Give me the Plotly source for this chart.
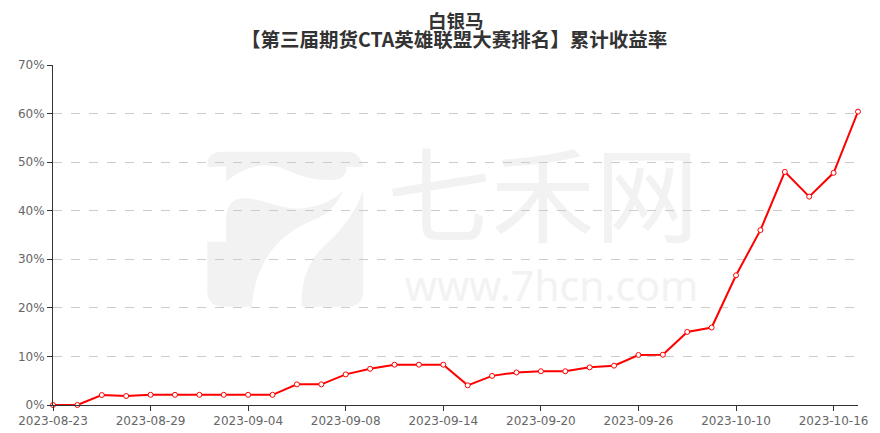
import plotly.graph_objects as go

dates = ["2023-08-23", "2023-08-24", "2023-08-25", "2023-08-28", "2023-08-29", "2023-08-30",
         "2023-08-31", "2023-09-01", "2023-09-04", "2023-09-05", "2023-09-06", "2023-09-07",
         "2023-09-08", "2023-09-11", "2023-09-12", "2023-09-13", "2023-09-14", "2023-09-15",
         "2023-09-18", "2023-09-19", "2023-09-20", "2023-09-21", "2023-09-22", "2023-09-25",
         "2023-09-26", "2023-09-27", "2023-09-28", "2023-10-09", "2023-10-10", "2023-10-11",
         "2023-10-12", "2023-10-13", "2023-10-16", "2023-10-17"]
returns = [0.0, 0.0, 2.05, 1.85, 2.1, 2.1, 2.1, 2.1, 2.1, 2.1, 4.25, 4.25,
           6.3, 7.45, 8.3, 8.3, 8.3, 4.05, 6.0, 6.7, 6.95, 6.95, 7.75, 8.1,
           10.3, 10.35, 15.05, 15.95, 26.7, 36.0, 48.0, 42.9, 47.8, 60.4]
tick_dates = dates[::4]
y_ticks = [0, 10, 20, 30, 40, 50, 60, 70]
title_line1 = "白银马"
title_line2 = "【第三届期货CTA英雄联盟大赛排名】累计收益率"

# page is 880x433, the html body adds an 8px offset
OFF = 8
W, H = 880 - OFF, 433 - OFF
PL, PR, PT, PB = 53, 858, 65, 405          # plot area in page pixels
L, T = PL - OFF, PT - OFF
R, B = W - (PR - OFF), H - (PB - OFF)
pw, ph = PR - PL, PB - PT


def px(x, y):
    return (x - PL) / pw, (PB - y) / ph


def zpath(pts_cmds):
    # logo drawn in zoom coordinates: page x = 190 + zx/3, page y = 130 + zy/3
    out = []
    for tok in pts_cmds.split():
        if "," in tok:
            zx, zy = map(float, tok.split(","))
            a, b = px(190 + zx / 3, 130 + zy / 3)
            out.append(f"{a:.5f},{b:.5f}")
        else:
            out.append(tok)
    return " ".join(out)


wm = "#f2f2f2"
logo_paths = [
    "M 52,110 L 52,105 Q 52,65 100,65 L 470,65 Q 510,65 520,110 L 470,110 Q 470,150 420,150 "
    "Q 350,150 290,120 Q 200,80 108,155 L 108,110 Z",
    "M 52,335 L 108,335 L 108,260 Q 115,205 160,205 Q 200,205 240,220 Q 300,240 340,235 "
    "Q 420,225 460,180 Q 430,250 370,270 Q 200,340 185,530 L 100,530 Q 52,530 52,480 Z",
    "M 520,180 L 520,480 Q 520,530 470,530 L 335,530 Q 330,420 400,350 Q 490,270 520,180 Z",
]
shapes = []
for p in logo_paths:
    shapes.append(dict(type="path", xref="paper", yref="paper", path=zpath(p),
                       fillcolor=wm, line=dict(width=0), layer="below"))

x0, y0 = px(380, 150)
x1, y1 = px(706, 262)
shapes.append(dict(type="rect", xref="paper", yref="paper", x0=x0, y0=y0, x1=x1, y1=y1,
                   line=dict(width=0), fillcolor="rgba(0,0,0,0)", layer="below",
                   label=dict(text="七禾网", font=dict(size=104, color=wm,
                              family="Noto Sans CJK SC"), textposition="middle center")))
x0, y0 = px(395, 268)
x1, y1 = px(708, 308)
shapes.append(dict(type="rect", xref="paper", yref="paper", x0=x0, y0=y0, x1=x1, y1=y1,
                   line=dict(width=0), fillcolor="rgba(0,0,0,0)", layer="below",
                   label=dict(text="www.7hcn.com", font=dict(size=41, color=wm,
                              family="Noto Sans"), textposition="middle center")))

fig = go.Figure()
fig.add_trace(go.Scatter(
    x=dates, y=returns, mode="lines+markers",
    line=dict(color="#ff0000", width=2),
    marker=dict(size=5, color="#ffffff", line=dict(color="#ff0000", width=1)),
    cliponaxis=False, showlegend=False,
))

fig.update_layout(
    width=W, height=H,
    margin=dict(l=L, r=R, t=T, b=B, autoexpand=False),
    paper_bgcolor="#ffffff", plot_bgcolor="#ffffff",
    font=dict(family="DejaVu Sans", size=12, color="#666666"),
    shapes=shapes,
    annotations=[
        dict(text=f"<b>{title_line1}</b>", xref="paper", yref="paper",
             x=px(456, 0)[0], y=px(0, 19.5)[1],
             xanchor="center", yanchor="middle", showarrow=False, borderpad=0,
             font=dict(family="Noto Sans CJK SC", size=18.5, color="#333333")),
        dict(text=f"<b>{title_line2}</b>", xref="paper", yref="paper",
             x=px(453.5, 0)[0], y=px(0, 38.5)[1], xanchor="center", yanchor="middle",
             showarrow=False, borderpad=0,
             font=dict(family="Noto Sans CJK SC", size=19.5, color="#333333")),
    ],
    xaxis=dict(
        type="category", range=[0, len(dates) - 1], automargin=False,
        tickmode="array", tickvals=tick_dates, ticktext=tick_dates,
        showgrid=False, showline=True, linecolor="#333333", linewidth=1,
        ticks="outside", ticklen=5, tickcolor="#333333",
        tickfont=dict(size=12, color="#666666"), zeroline=False,
    ),
    yaxis=dict(
        range=[0, 70], tickmode="array", tickvals=y_ticks, automargin=False,
        ticktext=[f"{v}%" for v in y_ticks],
        showgrid=True, gridcolor="#cccccc", griddash="dash", gridwidth=1,
        showline=True, linecolor="#333333", linewidth=1,
        ticks="outside", ticklen=5, tickcolor="#333333",
        tickfont=dict(size=12, color="#666666"), zeroline=False,
    ),
)

fig.write_html("out.html")
